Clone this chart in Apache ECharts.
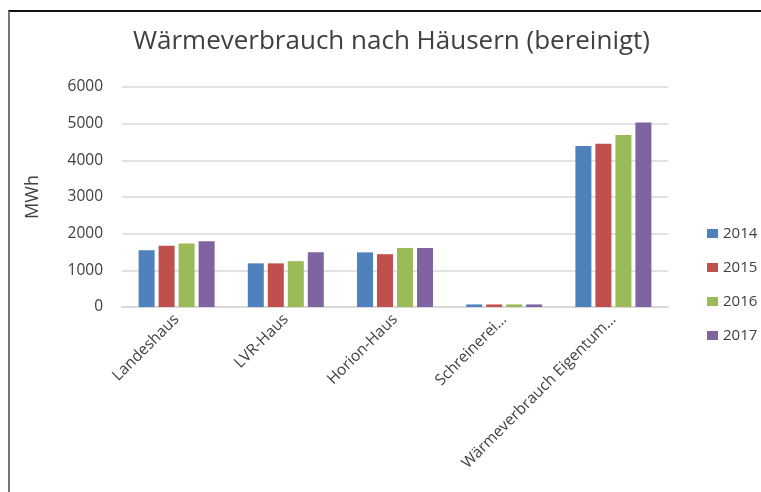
<!DOCTYPE html>
<html>
<head>
<meta charset="utf-8">
<script src="https://cdn.jsdelivr.net/npm/echarts@6/dist/echarts.min.js"></script>
<style>
  html, body { margin: 0; padding: 0; background: #fff; }
  #frame {
    position: absolute; left: 8px; top: 10px; width: 760px; height: 490px;
    border-top: 2px solid #111; border-left: 2px solid #777;
  }
  #chart { position: absolute; left: 0; top: 0; width: 761px; height: 492px; }
</style>
</head>
<body>
<div id="frame"></div>
<div id="chart"></div>
<script>
// Häuser (Kategorien)
const houses = ["Landeshaus", "LVR-Haus", "Horion-Haus", "Schreinerei…", "Wärmeverbrauch Eigentum…"];
const years = ["2014", "2015", "2016", "2017"];

// Wärmeverbrauch in MWh je Jahr
const v2014 = [1550, 1190, 1490, 70, 4390];
const v2015 = [1670, 1190, 1440, 70, 4450];
const v2016 = [1730, 1250, 1610, 70, 4690];
const v2017 = [1790, 1490, 1610, 70, 5030];

const colors = ["#4F81BD", "#C0504D", "#9BBB59", "#8064A2"];
const font = "'Open Sans', 'Liberation Sans', sans-serif";

var myChart = echarts.init(document.getElementById("chart"));
var option = {
  color: colors,
  animation: false,
  title: {
    text: "Wärmeverbrauch nach Häusern (bereinigt)",
    left: 128,
    top: 24,
    textStyle: { fontFamily: font, fontSize: 26, fontWeight: "normal", color: "#404040" },
  },
  legend: {
    orient: "vertical",
    left: 702,
    top: 221,
    itemWidth: 11,
    itemHeight: 9,
    itemGap: 19,
    icon: "rect",
    textStyle: { fontFamily: font, fontSize: 15, color: "#404040" },
    data: years,
  },
  grid: { left: 122, right: 93, top: 87, bottom: 185 },
  xAxis: {
    type: "category",
    data: houses,
    axisLine: { lineStyle: { color: "#D9D9D9", width: 2 } },
    axisTick: { show: false },
    axisLabel: {
      rotate: 45,
      margin: 10,
      interval: 0,
      fontFamily: font,
      fontSize: 15.5,
      color: "#404040",
    },
  },
  yAxis: {
    type: "value",
    min: 0,
    max: 6000,
    interval: 1000,
    name: "MWh",
    nameLocation: "middle",
    nameGap: 80,
    nameTextStyle: { fontFamily: font, fontSize: 18, color: "#404040" },
    axisLine: { show: false },
    axisTick: { show: false },
    axisLabel: {
      margin: 19,
      fontFamily: font,
      fontSize: 15.5,
      color: "#404040",
      formatter: (v) => String(v),
    },
    splitLine: { lineStyle: { color: "#D9D9D9", width: 1.5 } },
  },
  series: [
    { name: "2014", type: "bar", barWidth: 16, barGap: "25%", data: v2014 },
    { name: "2015", type: "bar", barWidth: 16, barGap: "25%", data: v2015 },
    { name: "2016", type: "bar", barWidth: 16, barGap: "25%", data: v2016 },
    { name: "2017", type: "bar", barWidth: 16, barGap: "25%", data: v2017 },
  ],
};
myChart.setOption(option);
</script>
</body>
</html>
